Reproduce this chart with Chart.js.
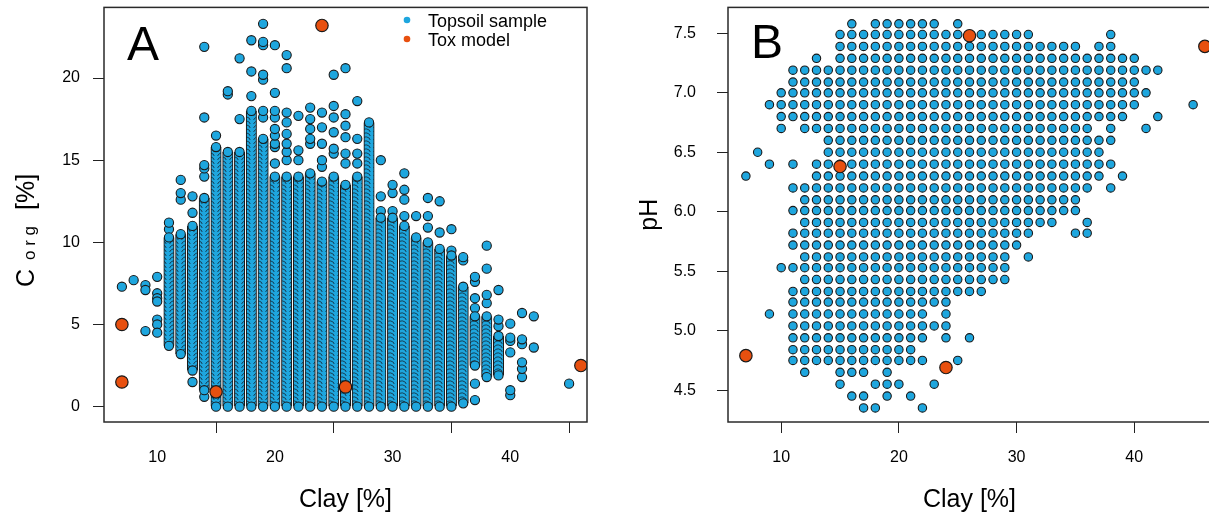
<!DOCTYPE html>
<html>
<head>
<meta charset="utf-8">
<script src="https://cdn.jsdelivr.net/npm/chart.js@4/dist/chart.umd.min.js"></script>
<style>
  html, body { margin: 0; padding: 0; background: #fff; overflow: hidden; width: 1209px; height: 518px; }
  .panel { position: absolute; top: 0; }
</style>
</head>
<body>
<div class="panel" style="left:0"><canvas id="chartA" width="600" height="518"></canvas></div>
<div class="panel" style="left:605px"><canvas id="chartB" width="620" height="518"></canvas></div>
<script>
// ---- Panel A: clay vs organic carbon ----
// dense columns of overlapping topsoil samples: lowest / highest value per clay class
const bandClay = [11, 12, 13, 14, 15, 16, 17, 18, 19, 20, 21, 22, 23, 24, 25, 26, 27, 28, 29, 30, 31, 32, 33, 34, 35, 36, 37, 38, 39];
const bandLow  = [3.7, 3.2, 2.2, 1.0, 0, 0, 0, 0, 0, 0, 0, 0, 0, 0, 0, 0, 0, 0, 0, 0, 0, 0, 0, 0, 0, 0.2, 2.5, 1.8, 1.9];
const bandHigh = [10.3, 10.5, 11.0, 12.7, 15.8, 15.5, 15.5, 18.0, 16.3, 14.0, 14.0, 14.0, 14.2, 13.7, 14.0, 13.5, 14.0, 17.3, 11.5, 11.5, 11.0, 10.3, 10.0, 9.6, 9.2, 7.3, 5.5, 5.5, 4.3];

// single samples outside the dense columns
const sampleClay = [7, 8, 9, 10, 11, 12, 13, 14, 15, 16, 17, 18, 19, 20, 21, 22, 23, 24, 25, 26, 27, 29, 30, 31, 32, 33, 34, 35, 36, 37, 38, 39, 40, 41, 42, 45];
const sampleCorg = [
  [7.3], [7.7], [7.4, 7.1, 4.6], [7.9, 6.9, 6.6, 6.4, 5.3, 5.0, 4.5],
  [10.8, 11.2], [12.6, 13.0, 13.8], [1.5, 11.8, 12.8], [0.6, 14.0, 14.5, 14.7, 17.6, 21.9],
  [16.5], [19.0, 19.2], [17.5, 21.2], [18.9, 20.4, 22.3],
  [17.6, 18.0, 19.9, 20.2, 22.0, 22.2, 23.3],
  [14.8, 15.8, 16.0, 16.5, 16.9, 17.6, 18.0, 19.1, 22.0],
  [15.0, 15.5, 16.0, 16.6, 17.3, 17.9, 20.6, 21.4],
  [15.0, 15.6, 17.7], [16.0, 16.3, 16.9, 17.5, 18.2], [14.6, 15.0, 16.0, 17.0, 17.9],
  [15.4, 15.7, 16.7, 17.6, 18.3, 20.2], [14.8, 15.4, 16.4, 17.1, 17.8, 20.6],
  [14.8, 15.4, 16.3, 18.6], [11.9, 12.8, 15.0], [11.9, 13.0, 13.5], [11.6, 12.6, 13.2, 14.2],
  [11.6], [10.9, 11.6, 12.7], [10.6, 12.5], [9.5, 10.8], [8.9, 9.1],
  [0.4, 1.4, 6.0, 6.6, 7.6, 7.9], [6.3, 6.8, 8.4, 9.8], [4.9, 5.3, 7.1],
  [0.7, 1.0, 3.3, 4.0, 4.2, 5.05], [1.8, 2.3, 2.7, 3.8, 4.1, 5.7], [3.6, 5.5], [1.4]
];

const toxClayA = [7, 7, 15, 24, 26, 46];
const toxCorg  = [5.0, 1.5, 0.9, 23.2, 1.2, 2.5];

// ---- Panel B: clay vs pH (samples sit on a clay x pH grid) ----
const phRows = [7.58, 7.49, 7.39, 7.29, 7.19, 7.09, 7.00, 6.90, 6.80, 6.70, 6.60, 6.50, 6.40, 6.30, 6.20, 6.10, 6.01,
                5.91, 5.82, 5.72, 5.62, 5.53, 5.43, 5.33, 5.24, 5.14, 5.04, 4.94, 4.84, 4.75, 4.65, 4.55, 4.45, 4.35];
// clay classes present in each pH row ("a-b" = every class from a to b)
const clayInRow = [
  '16 18-23 25', '15-31 38', '15-35 37 38', '13 15-40', '11-42', '11-40', '10-41', '9-40 45',
  '10-39 42', '10 12-36 38 41', '14-38', '8 14-37', '9 11 13-38', '7 13-37 39', '11-36 38', '12-35',
  '11-35', '12-33 36', '11-31 35 36', '11-30', '12-29 31', '10-29', '12-29', '11-27',
  '11-24', '9 11-22 24', '11-24', '11-22 24 26', '11-21', '11-22 25', '12 15-17 19', '15 18-20 23',
  '16 17 19 21', '17 18 22'
];

const toxClayB = [7, 15, 24, 26, 46];
const toxPH    = [4.79, 6.38, 4.69, 7.48, 7.39];

const clayTicks = [10, 20, 30, 40];
const corgTicks = [0, 5, 10, 15, 20];
const phTicks = [4.5, 5.0, 5.5, 6.0, 6.5, 7.0, 7.5];
const legendLabels = ['Topsoil sample', 'Tox model'];

const FONT = '"Liberation Sans", Arial, Helvetica, sans-serif';
const BLUE = '#1ea6de';
const ORANGE = '#e8500f';
const EDGE = '#1a1a1a';

// fill for the dense columns: stacked marker outlines
function stackPattern() {
  const c = document.createElement('canvas');
  c.width = 12; c.height = 4;
  const g = c.getContext('2d');
  g.fillStyle = BLUE;
  g.fillRect(0, 0, 12, 4);
  g.strokeStyle = 'rgba(20,30,40,0.75)';
  g.lineWidth = 1;
  g.beginPath();
  g.arc(6, 5.5, 4.6, Math.PI * 1.05, Math.PI * 1.95);
  g.stroke();
  return g.createPattern(c, 'repeat');
}

// build point lists
const topsoilA = [];
sampleClay.forEach((c, i) => sampleCorg[i].forEach(v => topsoilA.push({ x: c, y: v })));
bandClay.forEach((c, i) => {
  topsoilA.push({ x: c, y: bandLow[i] });
  topsoilA.push({ x: c, y: bandHigh[i] });
});
const bandsA = bandClay.map((c, i) => ({ x: c, y: [bandLow[i], bandHigh[i]] }));
const toxA = toxClayA.map((c, i) => ({ x: c, y: toxCorg[i] }));

const topsoilB = [];
phRows.forEach((ph, i) => {
  clayInRow[i].split(' ').forEach(part => {
    const [a, b] = part.split('-').map(Number);
    for (let c = a; c <= (b || a); c++) topsoilB.push({ x: c, y: ph });
  });
});
const toxB = toxClayB.map((c, i) => ({ x: c, y: toxPH[i] }));

function noEdgePadding(s) {
  s.paddingTop = 0; s.paddingBottom = 0; s.paddingLeft = 0; s.paddingRight = 0;
}

function xAxis() {
  return {
    type: 'linear', min: 5.48, max: 46.52, offset: false,
    afterBuildTicks: s => { s.ticks = clayTicks.map(v => ({ value: v })); },
    afterFit: s => { s.height = 96; noEdgePadding(s); },
    grid: { drawOnChartArea: false, drawTicks: true, tickLength: 11, color: '#222', lineWidth: 1 },
    border: { display: false },
    ticks: { padding: 15, color: '#000', font: { family: FONT, size: 16 } }
  };
}

function yAxis(min, max, ticks, width, pad, fmt) {
  return {
    type: 'linear', min, max,
    afterBuildTicks: s => { s.ticks = ticks.map(v => ({ value: v })); },
    afterFit: s => { s.width = width; noEdgePadding(s); },
    grid: { drawOnChartArea: false, drawTicks: true, tickLength: 11, color: '#222', lineWidth: 1 },
    border: { display: false },
    ticks: { padding: pad, color: '#000', font: { family: FONT, size: 16 }, callback: fmt }
  };
}

function boxPlugin(decorate) {
  return {
    id: 'box',
    afterDraw(chart) {
      const { ctx, chartArea: a } = chart;
      ctx.save();
      ctx.strokeStyle = '#2a2a2a';
      ctx.lineWidth = 1.5;
      ctx.strokeRect(a.left, a.top, a.right - a.left, a.bottom - a.top);
      ctx.fillStyle = '#000';
      decorate(ctx, a);
      ctx.restore();
    }
  };
}

const pointStyleA = { pointRadius: 4.6, pointHoverRadius: 4.6, backgroundColor: BLUE, borderColor: EDGE, borderWidth: 1.1 };
const pointStyleB = { pointRadius: 4.2, pointHoverRadius: 4.2, backgroundColor: BLUE, borderColor: EDGE, borderWidth: 1.1 };
const toxStyle = { pointRadius: 6.2, pointHoverRadius: 6.2, backgroundColor: ORANGE, borderColor: EDGE, borderWidth: 1.2 };

const common = {
  responsive: false,
  animation: false,
  devicePixelRatio: 1,
  plugins: { legend: { display: false }, tooltip: { enabled: false } },
  events: []
};

new Chart(document.getElementById('chartA'), {
  type: 'scatter',
  data: {
    datasets: [
      { label: 'Tox model', data: toxA, clip: 0, ...toxStyle },
      { label: 'Topsoil sample', data: topsoilA, clip: 0, ...pointStyleA },
      {
        type: 'bar', label: 'Topsoil sample (dense)', data: bandsA, grouped: false,
        barThickness: 10.4, backgroundColor: stackPattern(), borderColor: EDGE,
        borderWidth: { left: 1.1, right: 1.1, top: 0, bottom: 0 }, borderSkipped: false
      }
    ]
  },
  options: {
    ...common,
    layout: { padding: { left: 0, right: 13, top: 7, bottom: 0 } },
    scales: {
      x: xAxis(),
      y: yAxis(-0.935, 24.3, corgTicks, 104, 13, v => String(v))
    }
  },
  plugins: [boxPlugin((ctx, a) => {
    ctx.textAlign = 'left';
    ctx.textBaseline = 'alphabetic';
    ctx.font = `48px ${FONT}`;
    ctx.fillText('A', 127, 60);

    ctx.font = `18px ${FONT}`;
    [BLUE, ORANGE].forEach((col, i) => {
      const y = 20 + i * 19;
      ctx.fillStyle = col;
      ctx.beginPath();
      ctx.arc(407, y, 3.3, 0, Math.PI * 2);
      ctx.fill();
      ctx.fillStyle = '#000';
      ctx.fillText(legendLabels[i], 428, y + 6.5);
    });

    ctx.textAlign = 'center';
    ctx.font = `25px ${FONT}`;
    ctx.fillText('Clay [%]', (a.left + a.right) / 2, 507);

    ctx.save();
    ctx.translate(34, 287);
    ctx.rotate(-Math.PI / 2);
    ctx.textAlign = 'left';
    ctx.font = `25px ${FONT}`;
    ctx.fillText('C', 0, 0);
    ctx.font = `17px ${FONT}`;
    ctx.fillText('o r g', 27, 1);
    ctx.font = `25px ${FONT}`;
    ctx.fillText('[%]', 77, 0);
    ctx.restore();
  })]
});

new Chart(document.getElementById('chartB'), {
  type: 'scatter',
  data: {
    datasets: [
      { label: 'Tox model', data: toxB, clip: 0, ...toxStyle },
      { label: 'Topsoil sample', data: topsoilB, clip: 0, ...pointStyleB }
    ]
  },
  options: {
    ...common,
    layout: { padding: { left: 0, right: 14, top: 7, bottom: 0 } },
    scales: {
      x: xAxis(),
      y: yAxis(4.232, 7.718, phTicks, 123, 21, v => v.toFixed(1))
    }
  },
  plugins: [boxPlugin((ctx, a) => {
    ctx.textAlign = 'left';
    ctx.textBaseline = 'alphabetic';
    ctx.font = `48px ${FONT}`;
    ctx.fillText('B', 146, 58);

    ctx.textAlign = 'center';
    ctx.font = `25px ${FONT}`;
    ctx.fillText('Clay [%]', (a.left + a.right) / 2, 507);

    ctx.save();
    ctx.translate(52, (a.top + a.bottom) / 2);
    ctx.rotate(-Math.PI / 2);
    ctx.fillText('pH', 0, 0);
    ctx.restore();
  })]
});
</script>
</body>
</html>
